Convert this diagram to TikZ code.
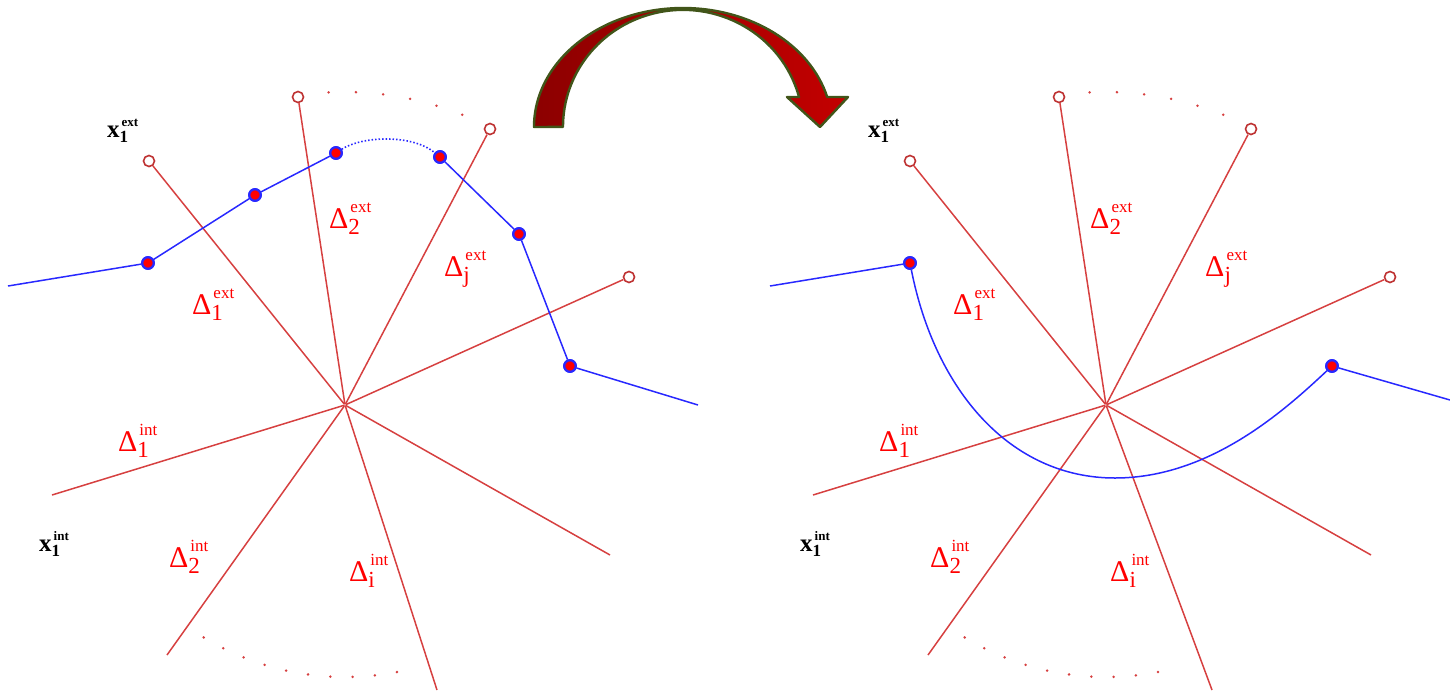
\documentclass[tikz,border=0pt]{standalone}
\usepackage{fontspec}
\setmainfont{Liberation Serif}
\usetikzlibrary{calc}
\definecolor{rayred}{RGB}{214,64,64}
\definecolor{circred}{RGB}{190,50,50}
\definecolor{labred}{RGB}{255,0,0}
\definecolor{lblue}{RGB}{40,40,255}
\definecolor{arrowedge}{RGB}{65,85,25}
\definecolor{arrowdark}{RGB}{140,0,0}
\definecolor{arrowlight}{RGB}{195,0,0}
\newcommand{\dlab}[2]{{\fontsize{30}{30}\selectfont Δ}\rlap{\raisebox{-6pt}{\fontsize{23}{23}\selectfont #1}}\hspace{2pt}\raisebox{16pt}{\fontsize{17}{17}\selectfont #2}}
\newcommand{\xlab}[2]{{\fontsize{25}{25}\selectfont\bfseries x}\rlap{\raisebox{-5pt}{\fontsize{17}{17}\selectfont\bfseries 1}}\hspace{2pt}\raisebox{11pt}{\fontsize{13}{13}\selectfont\bfseries #2}}
\begin{document}
\begin{tikzpicture}[x=1pt,y=-1pt,
  ray/.style={draw=rayred, line width=1.5pt},
  endc/.style={circle, draw=circred, fill=white, line width=1.6pt, inner sep=0pt, minimum size=11pt},
  bdot/.style={circle, draw=lblue, fill=red, line width=2.2pt, inner sep=0pt, minimum size=11.5pt},
  bline/.style={draw=lblue, line width=1.5pt},
  dlabel/.style={text=labred, inner sep=0pt, anchor=base west},
  xlabel/.style={text=black, inner sep=0pt, anchor=base west},
  cen/.style={circle, fill=rayred, inner sep=0pt, minimum size=2pt}
]
\useasboundingbox (0,0) rectangle (1450,694);

% ---------- curved arrow ----------
\path[left color=arrowdark, right color=arrowlight, draw=arrowedge, line width=2.4pt, line join=round]
  (534,127) arc[start angle=180, end angle=345.4, x radius=149, y radius=119]
  -- (848,97) -- (820,127) -- (787,97) -- (799,97)
  arc[start angle=345.2, end angle=180, x radius=120, y radius=117] -- cycle;

% ---------- panel macro ----------
% #1 prefix, #2 x offset, #3 bottom ray end x
\newcommand{\panel}[3]{%
\begin{scope}[xshift=#2pt, name prefix=#1-]
  \node[cen] (C) at (345,405) {};
  \node[endc] (e1) at (149,161) {};
  \node[endc] (e2) at (298,97) {};
  \node[endc] (ej) at (490,129) {};
  \node[endc] (e4) at (629,277) {};
  \coordinate (i1) at (52,495);
  \coordinate (i2) at (167,655);
  \coordinate (ii) at (#3,690);
  \coordinate (i4) at (610,555);
  \foreach \n in {e1,e2,ej,e4} \draw[ray] (C) -- (\n);
  \foreach \n in {i1,i2,ii,i4} \draw[ray] (C) -- (\n);
  \foreach \a in {267,272,...,292} \fill[rayred] ($(C)+(\a:313)$) circle (1.4pt);
  \foreach \a in {79,83.7,...,122} \fill[rayred] ($(C)+(\a:272)$) circle (1.4pt);
  \node[xlabel] (x1e) at (107,137) {\xlab{1}{ext}};
  \node[xlabel] (x1i) at (39,551) {\xlab{1}{int}};
  \node[dlabel] (d2e) at (329,228) {\dlab{2}{ext}};
  \node[dlabel] (dje) at (444,276) {\dlab{j}{ext}};
  \node[dlabel] (d1e) at (192,314) {\dlab{1}{ext}};
  \node[dlabel] (d1i) at (118,451) {\dlab{1}{int}};
  \node[dlabel] (d2i) at (169,567) {\dlab{2}{int}};
  \node[dlabel] (dii) at (349,581) {\dlab{i}{int}};
\end{scope}}

\panel{L}{0}{437}
\panel{R}{761}{451}

% ---------- left blue polyline ----------
\coordinate (la) at (8,286);
\node[bdot] (l1) at (148,263) {};
\node[bdot] (l2) at (255,195) {};
\node[bdot] (l3) at (336,153) {};
\node[bdot] (l4) at (440,157) {};
\node[bdot] (l5) at (519,234) {};
\node[bdot] (l6) at (570,366) {};
\coordinate (lb) at (698,405);
\draw[bline] (la) -- (l1) -- (l2) -- (l3);
\draw[bline, dotted, line width=1.6pt] (l3) .. controls (362,136) and (412,134) .. (l4);
\draw[bline] (l4) -- (l5) -- (l6) -- (lb);
\foreach \n in {l1,l2,l3,l4,l5,l6} \node[bdot] at (\n) {};

% ---------- right blue curve ----------
\coordinate (ra) at (770,286);
\node[bdot] (r1) at (910,263) {};
\node[bdot] (r2) at (1332,366) {};
\coordinate (rb) at (1450,400);
\draw[bline] (ra) -- (r1) .. controls (935,390) and (1010,478) .. (1115,478)
  .. controls (1210,478) and (1285,410) .. (r2) -- (rb);
\foreach \n in {r1,r2} \node[bdot] at (\n) {};
\end{tikzpicture}
\end{document}
